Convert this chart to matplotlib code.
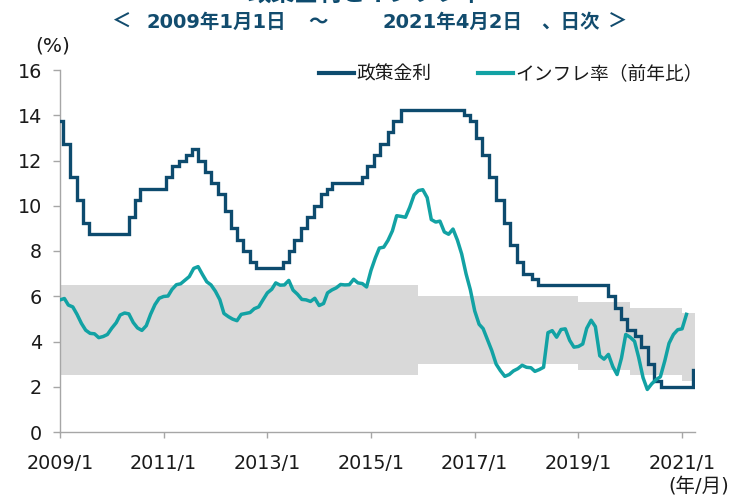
import matplotlib
matplotlib.use("Agg")
import matplotlib.pyplot as plt
import matplotlib.dates as mdates
import numpy as np
import pandas as pd

# ---------------- data ----------------
# Policy rate (Selic): dates of change and level from that date
policy_dates = ['2009-01-01', '2009-01-22', '2009-03-12', '2009-04-30', '2009-06-11', '2009-07-23',
                '2010-04-29', '2010-06-10', '2010-07-22',
                '2011-01-20', '2011-03-03', '2011-04-21', '2011-06-09', '2011-07-21', '2011-09-01',
                '2011-10-20', '2011-12-01',
                '2012-01-19', '2012-03-08', '2012-04-19', '2012-05-31', '2012-07-12', '2012-08-30',
                '2012-10-11',
                '2013-04-18', '2013-05-30', '2013-07-11', '2013-08-29', '2013-10-10', '2013-11-28',
                '2014-01-16', '2014-02-27', '2014-04-03', '2014-10-30', '2014-12-04',
                '2015-01-22', '2015-03-05', '2015-04-30', '2015-06-04', '2015-07-30',
                '2016-10-20', '2016-12-01',
                '2017-01-12', '2017-02-23', '2017-04-13', '2017-06-01', '2017-07-27', '2017-09-07',
                '2017-10-26', '2017-12-07',
                '2018-02-08', '2018-03-22',
                '2019-08-01', '2019-09-19', '2019-10-31', '2019-12-12',
                '2020-02-06', '2020-03-19', '2020-05-07', '2020-06-18', '2020-08-06',
                '2021-03-18', '2021-04-02']
policy_rate = [13.75, 12.75, 11.25, 10.25, 9.25, 8.75,
               9.50, 10.25, 10.75,
               11.25, 11.75, 12.00, 12.25, 12.50, 12.00,
               11.50, 11.00,
               10.50, 9.75, 9.00, 8.50, 8.00, 7.50,
               7.25,
               7.50, 8.00, 8.50, 9.00, 9.50, 10.00,
               10.50, 10.75, 11.00, 11.25, 11.75,
               12.25, 12.75, 13.25, 13.75, 14.25,
               14.00, 13.75,
               13.00, 12.25, 11.25, 10.25, 9.25, 8.25,
               7.50, 7.00,
               6.75, 6.50,
               6.00, 5.50, 5.00, 4.50,
               4.25, 3.75, 3.00, 2.25, 2.00,
               2.75, 2.75]

# Inflation (y/y, %), monthly from 2009/1 to 2021/2
inflation_start = '2009-01-01'
inflation = [5.84, 5.90, 5.61, 5.53, 5.20, 4.80, 4.50, 4.36, 4.34, 4.17, 4.22, 4.31,
             4.59, 4.83, 5.17, 5.26, 5.22, 4.84, 4.60, 4.49, 4.70, 5.20, 5.63, 5.91,
             5.99, 6.01, 6.30, 6.51, 6.55, 6.71, 6.87, 7.23, 7.31, 6.97, 6.64, 6.50,
             6.22, 5.85, 5.24, 5.10, 4.99, 4.92, 5.20, 5.24, 5.28, 5.45, 5.53, 5.84,
             6.15, 6.31, 6.59, 6.49, 6.50, 6.70, 6.27, 6.09, 5.86, 5.84, 5.77, 5.91,
             5.59, 5.68, 6.15, 6.28, 6.37, 6.52, 6.50, 6.51, 6.75, 6.59, 6.56, 6.41,
             7.14, 7.70, 8.13, 8.17, 8.47, 8.89, 9.56, 9.53, 9.49, 9.93, 10.48, 10.67,
             10.71, 10.36, 9.39, 9.28, 9.32, 8.84, 8.74, 8.97, 8.48, 7.87, 6.99, 6.29,
             5.35, 4.76, 4.57, 4.08, 3.60, 3.00, 2.71, 2.46, 2.54, 2.70, 2.80, 2.95,
             2.86, 2.84, 2.68, 2.76, 2.86, 4.39, 4.48, 4.19, 4.53, 4.56, 4.05, 3.75,
             3.78, 3.89, 4.58, 4.94, 4.66, 3.37, 3.22, 3.43, 2.89, 2.54, 3.27, 4.31,
             4.19, 4.01, 3.30, 2.40, 1.88, 2.13, 2.31, 2.44, 3.14, 3.92, 4.31, 4.52,
             4.56, 5.20]

# Inflation target range (grey band): period starts, upper and lower bounds
band_starts = ['2009-01-01', '2015-11-27', '2019-01-01', '2020-01-01', '2021-01-01', '2021-04-02']
band_upper = [6.5, 6.0, 5.75, 5.5, 5.25, 5.25]
band_lower = [2.5, 3.0, 2.75, 2.5, 2.25, 2.25]

x_ticks = ['2009-01-01', '2011-01-01', '2013-01-01', '2015-01-01', '2017-01-01', '2019-01-01', '2021-01-01']
x_tick_labels = ['2009/1', '2011/1', '2013/1', '2015/1', '2017/1', '2019/1', '2021/1']
y_ticks = [0, 2, 4, 6, 8, 10, 12, 14, 16]

label_policy = '政策金利'
label_infl = 'インフレ率（前年比）'
title_main = '政策金利とインフレ率'

# ---------------- style ----------------
FONT = ['DejaVu Sans', 'Noto Sans CJK JP']
plt.rcParams['font.family'] = FONT
NAVY = '#0D4B6E'
TEAL = '#12A2A4'
GREY = '#D9D9D9'
AXIS = '#A6A6A6'
TXT = '#1A1A1A'

fig = plt.figure(figsize=(7.37, 4.97), dpi=100)
ax = fig.add_axes([60 / 737, 1 - 432 / 497, 635 / 737, 362 / 497])

pd_policy = pd.to_datetime(policy_dates)
pd_infl = pd.date_range(inflation_start, periods=len(inflation), freq='MS')
pd_band = pd.to_datetime(band_starts)

ax.fill_between(pd_band, band_lower, band_upper, step='post', color=GREY, lw=0, zorder=1)
ax.plot(pd_policy, policy_rate, drawstyle='steps-post', color=NAVY, lw=2.4,
        solid_joinstyle='miter', label=label_policy, zorder=3)
ax.plot(pd_infl, inflation, color=TEAL, lw=2.5, label=label_infl, zorder=4)

ax.set_xlim(pd.Timestamp('2009-01-01'), pd.Timestamp('2021-04-02'))
ax.set_ylim(0, 16)
ax.set_yticks(y_ticks)
ax.set_yticklabels([str(v) for v in y_ticks])
ax.set_xticks(pd.to_datetime(x_ticks))
ax.set_xticklabels(x_tick_labels)

for s in ['top', 'right']:
    ax.spines[s].set_visible(False)
for s in ['left', 'bottom']:
    ax.spines[s].set_color(AXIS)
    ax.spines[s].set_linewidth(1.0)
ax.tick_params(axis='y', length=5, width=1, color=AXIS, pad=8, labelsize=13.8, labelcolor=TXT)
ax.tick_params(axis='x', length=4.5, width=1, color=AXIS, pad=11.5, labelsize=13.8, labelcolor=TXT)

leg = ax.legend(loc='center right', bbox_to_anchor=(1.013, 0.99), ncol=2, frameon=False,
                fontsize=13.5, handlelength=1.85, handletextpad=0.15, columnspacing=2.5,
                borderpad=0, borderaxespad=0)
for t in leg.get_texts():
    t.set_color(TXT)
for h in leg.get_lines():
    h.set_linewidth(3.0)

fig.text(53 / 737, 1 - 46 / 497, '(%)', ha='center', va='center', fontsize=14.5, color=TXT)
fig.text(699 / 737, 1 - 486 / 497, '(年/月)', ha='center', va='center', fontsize=14, color=TXT)

# titles
fig.text(366 / 737, 1 - 6 / 497, title_main, ha='center', va='bottom', fontsize=17,
         fontweight='bold', color=NAVY)
sub_color = '#124C6E'
fig.text(121 / 737, 1 - 22 / 497, '＜', ha='center', va='center', fontsize=14,
         fontweight='bold', color=sub_color)
fig.text(146 / 737, 1 - 22 / 497, '2009年1月1日', ha='left', va='center', fontsize=14,
         fontweight='bold', color=sub_color)
fig.text(318 / 737, 1 - 22 / 497, '～', ha='center', va='center', fontsize=14,
         fontweight='bold', color=sub_color)
fig.text(383 / 737, 1 - 22 / 497, '2021年4月2日', ha='left', va='center', fontsize=14,
         fontweight='bold', color=sub_color)
fig.text(541 / 737, 1 - 22 / 497, '、日次', ha='left', va='center', fontsize=14,
         fontweight='bold', color=sub_color)
fig.text(618 / 737, 1 - 22 / 497, '＞', ha='center', va='center', fontsize=14,
         fontweight='bold', color=sub_color)

fig.savefig('out.png', dpi=100)
